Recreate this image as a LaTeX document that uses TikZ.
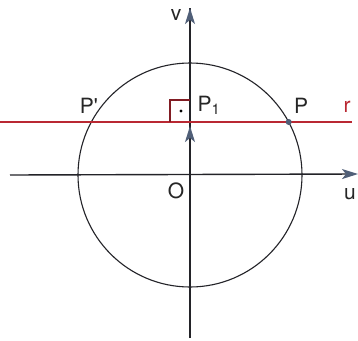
\documentclass[tikz,border=0pt]{standalone}
\usepackage{fontspec}
\setmainfont{TeX Gyre Heros}
\usetikzlibrary{arrows.meta}
\definecolor{redl}{RGB}{185,40,50}
\definecolor{axisc}{RGB}{35,35,40}
\definecolor{tipc}{RGB}{80,95,120}
\tikzset{
  axis/.style={draw=axisc, line width=1.4pt},
  axisarrow/.style={axis, -{Stealth[length=16pt,width=10pt,inset=4pt,fill=tipc,color=tipc]}},
  circ/.style={draw=axisc, line width=1.1pt},
  redline/.style={draw=redl, line width=1.6pt},
  lbl/.style={inner sep=0pt, text=black!85, font=\fontsize{21}{24}\selectfont},
}
\begin{document}
\begin{tikzpicture}[x=1pt,y=-1pt]
\useasboundingbox[fill=white] (0,0) rectangle (358,340);
\coordinate (O) at (190,175);
\coordinate (P1) at (190,122);
\coordinate (P) at (288.7,122);
\coordinate (Pp) at (91.3,122);
\coordinate (rL) at (0,122);
\coordinate (rR) at (352,122);
\coordinate (uL) at (10,175);
\coordinate (uR) at (358,174);
\coordinate (vB) at (190,338);
\coordinate (vT) at (190,8);
\coordinate (vecB) at (190,150);
\coordinate (vecT) at (190,126);
\coordinate (sq1) at (170,122);
\coordinate (sq2) at (190,100);
\coordinate (dot) at (181,111);
% circle
\draw[circ] (O) circle[radius=112];
% axes
\draw[axisarrow] (uL) -- (uR);
\draw[axis] (vB) -- (vT);
\draw[axisarrow] (190,60) -- (vT);
% line r
\draw[redline] (rL) -- (rR);
% right angle mark
\draw[draw=redl!70!black, line width=1.1pt] (sq1) |- (sq2);
\fill[black] (dot) circle[radius=1.7];
% vector arrow
\draw[axisarrow] (vecB) -- (vecT);
% point P
\fill[tipc] (P) circle[radius=3];
% labels
\node[lbl] (lv) at (176,15) {v};
\node[lbl] (lPp) at (89,106) {P\textquotesingle};
\node[lbl] (lP1) at (209,105) {P\textsubscript{1}};
\node[lbl] (lP) at (301,106) {P};
\node[lbl, text=redl] (lr) at (347,107) {r};
\node[lbl] (lO) at (176,191) {O};
\node[lbl] (lu) at (350,194) {u};
\end{tikzpicture}
\end{document}
